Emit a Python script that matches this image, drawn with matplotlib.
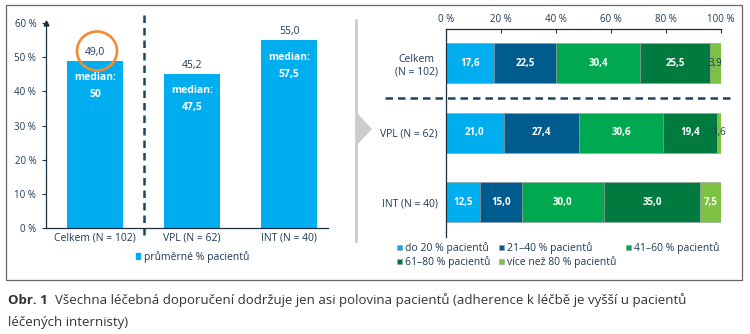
import numpy as np
import matplotlib
matplotlib.use("Agg")
import matplotlib.pyplot as plt
from matplotlib.patches import Ellipse, Rectangle, Polygon
from matplotlib.lines import Line2D

plt.rcParams['font.family'] = ['Open Sans', 'DejaVu Sans']

# left panel data
groups = ['Celkem (N = 102)', 'VPL (N = 62)', 'INT (N = 40)']
mean_pct = [49.0, 45.2, 55.0]
median_pct = [50, 47.5, 57.5]

# right panel data
rows = ['Celkem\n(N = 102)', 'VPL (N = 62)', 'INT (N = 40)']
bands = ['do 20 % pacientů', '21–40 % pacientů', '41–60 % pacientů',
         '61–80 % pacientů', 'více než 80 % pacientů']
shares = np.array([
    [17.6, 22.5, 30.4, 25.5, 3.9],
    [21.0, 27.4, 30.6, 19.4, 1.6],
    [12.5, 15.0, 30.0, 35.0, 7.5],
])
band_colors = ['#00AEEF', '#005B8F', '#00A94F', '#007A3E', '#7DC243']

txt = '#1f3a55'
navy = '#1b4560'
W, H = 750, 334
capfont = ['Liberation Sans Narrow', 'Open Sans', 'DejaVu Sans']


def rect(l, t, r, b):
    return [l / W, 1 - b / H, (r - l) / W, (b - t) / H]


def fmt(v):
    return f"{v:.1f}".replace('.', ',')


fig = plt.figure(figsize=(7.5, 3.34), dpi=100)

# outer frame
fig.add_artist(Rectangle((6 / W, 1 - 280 / H), 736 / W, 275 / H, transform=fig.transFigure,
                         fill=False, ec='#666666', lw=0.9))

# ---- left panel ----
ax = fig.add_axes(rect(46, 23, 328, 228))
x = np.arange(len(groups))
ax.bar(x, mean_pct, width=0.58, color='#00AEEF', zorder=2)
for i, (m, md) in enumerate(zip(mean_pct, median_pct)):
    ax.text(i, m + 0.8, fmt(m), ha='center', va='bottom', fontsize=7.5, color=txt)
    ax.text(i, m - 5.0, 'median:', ha='center', va='center', fontsize=7.5,
            color='white', fontweight='bold')
    ax.text(i, m - 10.0, f"{md:g}".replace('.', ','), ha='center', va='center',
            fontsize=7.5, color='white', fontweight='bold')
ax.set_xlim(-0.505, 2.40)
ax.set_ylim(0, 60)
ax.set_yticks(range(0, 61, 10))
ax.set_yticklabels([f"{v} %" for v in range(0, 61, 10)])
ax.set_xticks(x)
ax.set_xticklabels(groups)
ax.tick_params(axis='y', labelsize=7, colors=txt, length=3, width=0.8, pad=4)
ax.tick_params(axis='x', labelsize=7.5, colors=txt, length=0, pad=3)
for s in ['top', 'right']:
    ax.spines[s].set_visible(False)
for s in ['left', 'bottom']:
    ax.spines[s].set_color('#1a2f40')
    ax.spines[s].set_linewidth(0.9)
ax.plot([0], [1], marker='^', ms=3.5, color='#1a2f40', transform=ax.transAxes, clip_on=False)
ax.axvline(0.5, ymin=-0.035, ymax=1.05, color=navy, lw=1.8, ls=(0, (3, 2)), clip_on=False)
ax.legend([Rectangle((0, 0), 1, 1, color='#00AEEF')], ['průměrné % pacientů'],
          loc='center', bbox_to_anchor=(0.52, -0.14), frameon=False, fontsize=7.5,
          handlelength=0.45, handleheight=0.45, handletextpad=0.4, labelcolor=txt)

fig.add_artist(Ellipse((97 / W, 1 - 51 / H), 40 / W, 39 / H, transform=fig.transFigure,
                       fill=False, ec='#F58A33', lw=1.9))

# ---- separator with arrow ----
fig.add_artist(Line2D([356 / W, 356 / W], [1 - 20 / H, 1 - 241 / H], transform=fig.transFigure,
                      color='#cccccc', lw=2))
fig.add_artist(Polygon([(357 / W, 1 - 113 / H), (372 / W, 1 - 129 / H), (357 / W, 1 - 145 / H)],
                       closed=True, transform=fig.transFigure, fc='#cccccc', ec='none'))

# ---- right panel ----
ax2 = fig.add_axes(rect(446, 29, 721, 237))
y = np.arange(len(rows))
left = np.zeros(len(rows))
handles = []
for j, band in enumerate(bands):
    vals = shares[:, j]
    b = ax2.barh(y, vals, left=left, height=0.575, color=band_colors[j],
                 edgecolor='#9a9a9a', linewidth=0.4, label=band, zorder=2)
    handles.append(b)
    for i, v in enumerate(vals):
        c = txt if v < 5 else 'white'
        ax2.text(left[i] + v / 2, i, fmt(v), ha='center', va='center', fontsize=7,
                 color=c, fontweight='bold' if v >= 5 else 'normal')
    left += vals
ax2.set_xlim(0, 100)
ax2.set_ylim(2.5, -0.49)
ax2.xaxis.tick_top()
ax2.set_xticks(range(0, 101, 20))
ax2.set_xticklabels([f"{v} %" for v in range(0, 101, 20)])
ax2.set_yticks(y)
ax2.set_yticklabels(rows, multialignment='center')
ax2.tick_params(axis='x', labelsize=7, colors=txt, direction='in', length=3, width=0.8, pad=3)
ax2.tick_params(axis='y', labelsize=7.5, colors=txt, length=0, pad=6)
for s in ['bottom', 'right']:
    ax2.spines[s].set_visible(False)
for s in ['left', 'top']:
    ax2.spines[s].set_color('#1a2f40')
    ax2.spines[s].set_linewidth(0.9)
ax2.axhline(0.5, xmin=(385 - 446) / 275, xmax=(732 - 446) / 275, color=navy, lw=1.8,
            ls=(0, (3, 2)), clip_on=False)
order = [0, 3, 1, 4, 2]
ax2.legend([handles[k] for k in order], [bands[k] for k in order], ncol=3,
           loc='upper left', bbox_to_anchor=(-0.205, 0.01), frameon=False, fontsize=7.5,
           handlelength=0.45, handleheight=0.45, handletextpad=0.3, columnspacing=0.9,
           labelspacing=0.2, labelcolor=txt, borderpad=0.2)

# caption
cap = fig.text(8 / W, 1 - 304 / H, 'Obr. 1', fontsize=9.5, fontweight='bold', color='#333333',
               family=capfont)
ax.annotate('Všechna léčebná doporučení dodržuje jen asi polovina pacientů (adherence k léčbě je vyšší u pacientů',
            xy=(1, 0), xycoords=cap, xytext=(5, 0), textcoords='offset points',
            fontsize=9.5, color='#333333', va='bottom', ha='left', annotation_clip=False,
            family=capfont)
fig.text(8 / W, 1 - 326 / H, 'léčených internisty)', fontsize=9.5, color='#333333',
         family=capfont)

fig.savefig('out.png', dpi=100)
